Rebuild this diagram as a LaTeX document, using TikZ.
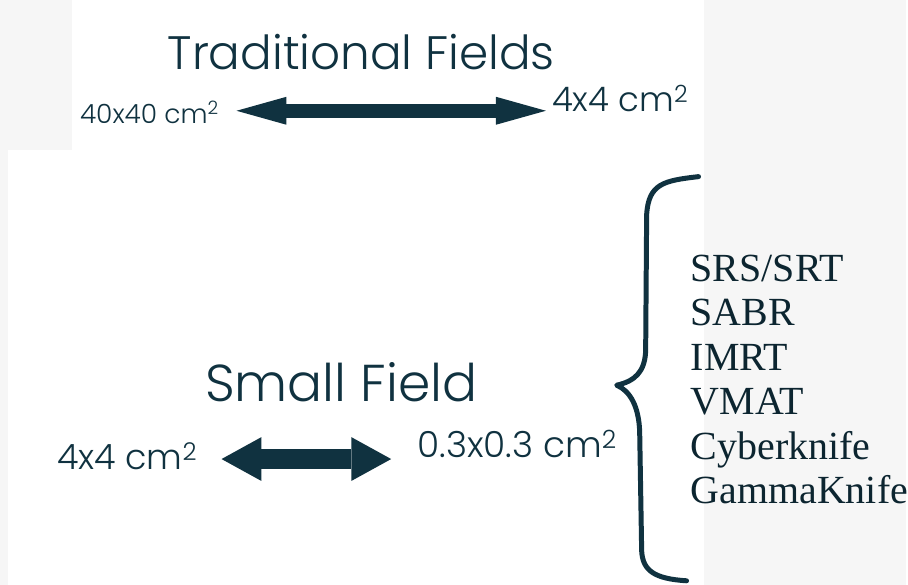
\documentclass[tikz,border=0pt]{standalone}
\usepackage{fontspec}
\usepackage{xcolor}
\usetikzlibrary{arrows.meta}
\setmainfont{Liberation Serif}
\newfontfamily\gothic{Poppins Light}

\definecolor{inkteal}{RGB}{16,50,64}
\definecolor{paper}{RGB}{246,246,246}

\begin{document}
\begin{tikzpicture}[x=1pt,y=-1pt,
    every node/.style={inner sep=0pt,text=inkteal},
    title/.style={font=\gothic\fontsize{#1}{#1}\selectfont},
    fatarrow/.style n args={3}{draw=inkteal,line width=#1,
      {Triangle[length=#2,width=#3,line width=0pt]}-{Triangle[length=#2,width=#3,line width=0pt]}},
    brace/.style={draw=inkteal,line width=5pt,line cap=round,line join=round},
    techitem/.style={font=\fontsize{40}{40}\selectfont,text=inkteal!75!black}]

    % paper and the two white panels
    \fill[paper] (0,0) rectangle (908,586);
    \fill[white] (72,0) rectangle (705,150);
    \fill[white] (8,150) rectangle (705,586);

    % traditional fields
    \node[title=47,anchor=base] (tradtitle) at (362,70) {Traditional Fields};
    \node[title=26.5,anchor=base west] (tradbig) at (80,124) {40x40 cm\textsuperscript{2}};
    \node[title=34,anchor=base west] (tradsmall) at (553,112) {4x4 cm\textsuperscript{2}};
    \coordinate (tradL) at (237,111);
    \coordinate (tradR) at (547,111);
    \draw[fatarrow={14pt}{50pt}{28pt}] (tradL) -- (tradR);

    % small field
    \node[title=52,anchor=base] (smalltitle) at (342,402) {Small Field};
    \node[title=35,anchor=base west] (smallbig) at (57,470) {4x4 cm\textsuperscript{2}};
    \node[title=36,anchor=base west] (smallsmall) at (418,458) {0.3x0.3 cm\textsuperscript{2}};
    \coordinate (smallL) at (222,460);
    \coordinate (smallR) at (392,460);
    \draw[fatarrow={20pt}{40pt}{44pt}] (smallL) -- (smallR);

    % brace
    \coordinate (braceT) at (700,177);
    \coordinate (braceM) at (618,386);
    \coordinate (braceB) at (688,582);
    \draw[brace] (braceT) .. controls (665,181) and (650,184) .. (648,215)
      -- (647,352) .. controls (646,373) and (636,382) .. (braceM)
      .. controls (632,392) and (640,408) .. (641,432)
      -- (643,552) .. controls (644,572) and (656,580) .. (braceB);

    % techniques
    \foreach \tech [count=\i from 0] in {SRS/SRT,SABR,IMRT,VMAT,Cyberknife,GammaKnife}
      \node[techitem,anchor=base west] (tech\i) at (692,282+44.6*\i) {\tech};

\end{tikzpicture}
\end{document}
